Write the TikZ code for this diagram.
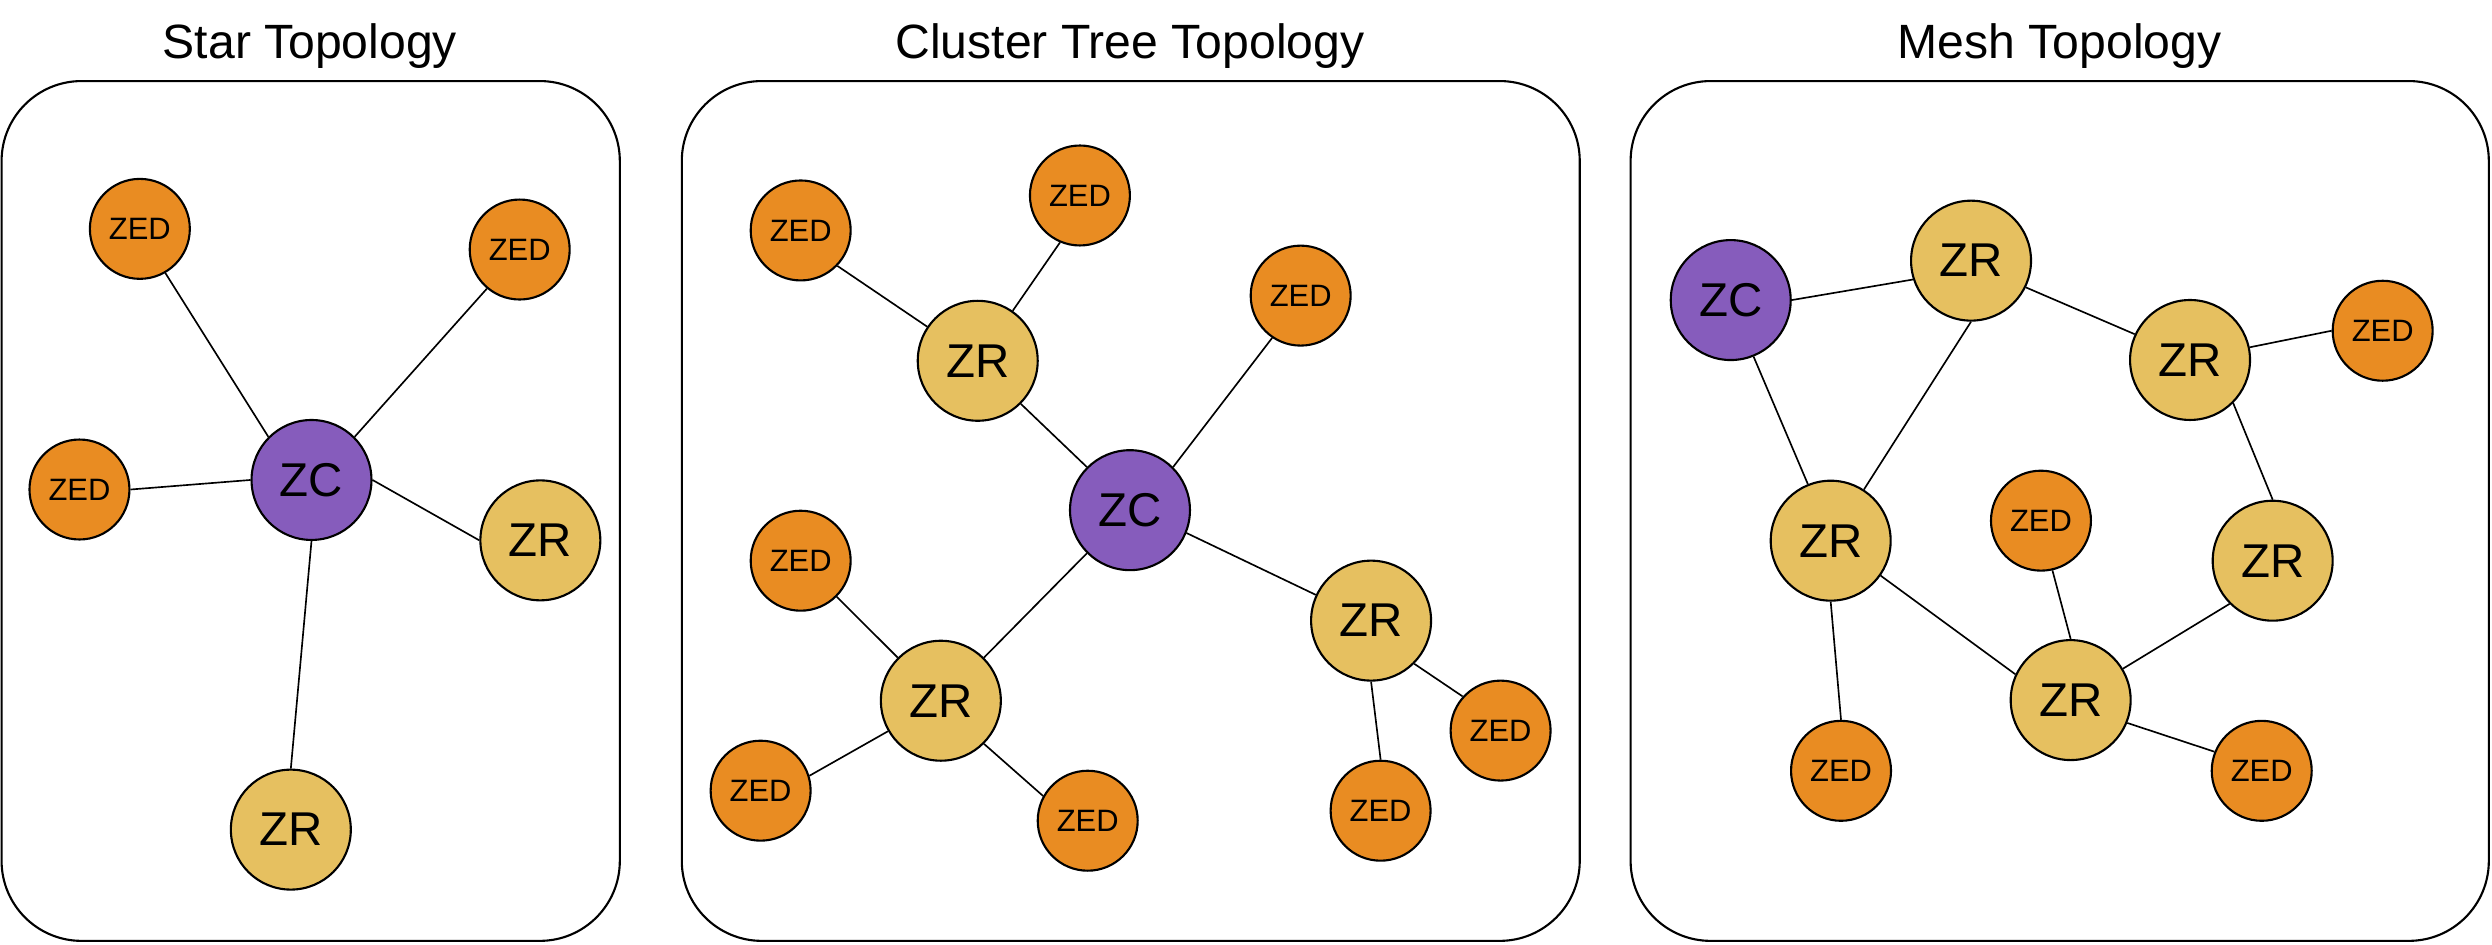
\documentclass[tikz,border=0pt]{standalone}
\usepackage{fontspec}
\setmainfont{Liberation Sans}
\definecolor{zedc}{HTML}{E98C22}
\definecolor{zrc}{HTML}{E6C060}
\definecolor{zcc}{HTML}{865CBC}
\tikzset{
  base/.style={circle, draw=black, line width=0.6pt, inner sep=0pt},
  zed/.style={base, fill=zedc, minimum size=1.0cm, font=\fontsize{8.8}{10}\selectfont},
  zr/.style={base, fill=zrc, minimum size=1.2cm, font=\fontsize{13.5}{16}\selectfont},
  zc/.style={base, fill=zcc, minimum size=1.2cm, font=\fontsize{13.5}{16}\selectfont},
  panel/.style={draw=black, line width=0.6pt, rounded corners=0.8cm},
  ttl/.style={font=\fontsize{13.7}{15}\selectfont, anchor=base, inner sep=0pt},
  link/.style={line width=0.47pt}
}
\begin{document}
\begin{tikzpicture}[x=0.015893cm, y=-0.015893cm]
\useasboundingbox (0,0) rectangle (1568,594);
% panels
\draw[panel] (1,51) rectangle (390,592);
\draw[panel] (429,51) rectangle (994,592);
\draw[panel] (1026,51) rectangle (1566,592);
\node[ttl] (t1) at (195,36.5) {Star Topology};
\node[ttl] (t2) at (711,36.5) {Cluster Tree Topology};
\node[ttl] (t3) at (1296,36.5) {Mesh Topology};
% star
\node[zed] (s1) at (88,144) {ZED};
\node[zed] (s2) at (327,157) {ZED};
\node[zed] (s3) at (50,308) {ZED};
\node[zc] (sc) at (196,302) {ZC};
\node[zr] (s4) at (340,340) {ZR};
\node[zr] (s5) at (183,522) {ZR};
\draw[link] (sc.135) -- (s1.-60);
\draw[link] (sc.45) -- (s2.-130);
\draw[link] (sc.west) -- (s3.east);
\draw[link] (sc.east) -- (s4.west);
\draw[link] (sc.south) -- (s5.north);
% cluster tree
\node[zed] (c1) at (503.8,145) {ZED};
\node[zed] (c2) at (679.5,123) {ZED};
\node[zed] (c3) at (818.4,186) {ZED};
\node[zr] (cr1) at (615.2,227) {ZR};
\node[zc] (cc) at (711,321) {ZC};
\node[zed] (c4) at (503.8,352.8) {ZED};
\node[zr] (cr2) at (592,440.9) {ZR};
\node[zr] (cr3) at (862.7,390.5) {ZR};
\node[zed] (c5) at (478.6,497.5) {ZED};
\node[zed] (c6) at (684.4,516.4) {ZED};
\node[zed] (c7) at (944.2,459.7) {ZED};
\node[zed] (c8) at (868.7,510.1) {ZED};
\draw[link] (c1.-44) -- (cr1.146);
\draw[link] (c2.-113) -- (cr1.55);
\draw[link] (cr1.-45) -- (cc.135);
\draw[link] (c3.-124) -- (cc.45);
\draw[link] (cc.-135) -- (cr2.45);
\draw[link] (cc.-22) -- (cr3.155);
\draw[link] (c4.-45) -- (cr2.135);
\draw[link] (c5.17) -- (cr2.-150);
\draw[link] (cr2.-45) -- (c6.151);
\draw[link] (cr3.-45) -- (c7.138);
\draw[link] (cr3.south) -- (c8.north);
% mesh
\node[zc] (mc) at (1089,188.8) {ZC};
\node[zr] (m1) at (1240.2,164) {ZR};
\node[zr] (m2) at (1378,226.5) {ZR};
\node[zed] (m3) at (1499.2,208.1) {ZED};
\node[zr] (m4) at (1151.9,340.2) {ZR};
\node[zed] (m5) at (1284.2,327.6) {ZED};
\node[zr] (m6) at (1430,352.8) {ZR};
\node[zr] (m7) at (1302.9,440.5) {ZR};
\node[zed] (m8) at (1158.4,485) {ZED};
\node[zed] (m9) at (1423.1,485) {ZED};
\draw[link] (mc.east) -- (m1.-162);
\draw[link] (mc.-68) -- (m4.112);
\draw[link] (m1.-26) -- (m2.155);
\draw[link] (m1.south) -- (m4.57);
\draw[link] (m2.12) -- (m3.west);
\draw[link] (m2.-45) -- (m6.north);
\draw[link] (m4.-35) -- (m7.155);
\draw[link] (m4.south) -- (m8.north);
\draw[link] (m5.-77) -- (m7.north);
\draw[link] (m6.-135) -- (m7.31);
\draw[link] (m7.-22) -- (m9.158);
\end{tikzpicture}
\end{document}
